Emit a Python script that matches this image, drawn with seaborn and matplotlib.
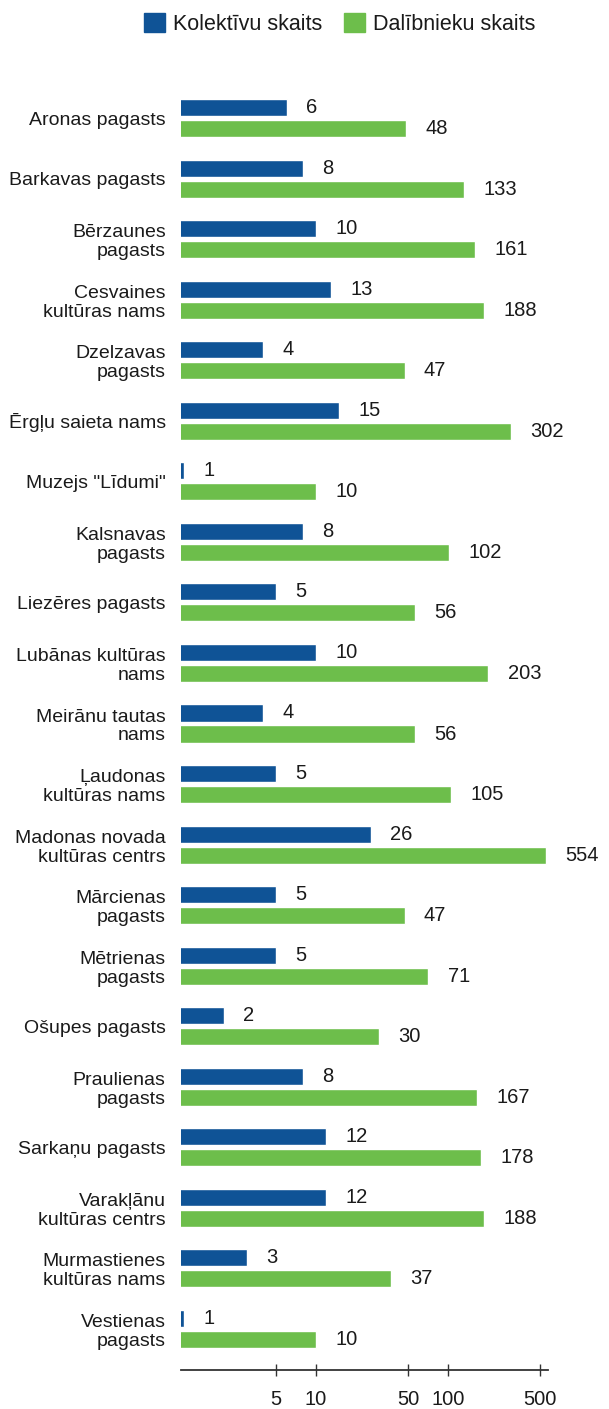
import numpy as np
import pandas as pd
import matplotlib
matplotlib.use('Agg')
import matplotlib.pyplot as plt
import seaborn as sns

# Chart data
labels = [
    'Aronas pagasts', 'Barkavas pagasts', 'Bērzaunes\npagasts', 'Cesvaines\nkultūras nams',
    'Dzelzavas\npagasts', 'Ērgļu saieta nams', 'Muzejs "Līdumi"', 'Kalsnavas\npagasts',
    'Liezēres pagasts', 'Lubānas kultūras\nnams', 'Meirānu tautas\nnams', 'Ļaudonas\nkultūras nams',
    'Madonas novada\nkultūras centrs', 'Mārcienas\npagasts', 'Mētrienas\npagasts', 'Ošupes pagasts',
    'Praulienas\npagasts', 'Sarkaņu pagasts', 'Varakļānu\nkultūras centrs', 'Murmastienes\nkultūras nams',
    'Vestienas\npagasts',
]
kolektivi = [6, 8, 10, 13, 4, 15, 1, 8, 5, 10, 4, 5, 26, 5, 5, 2, 8, 12, 12, 3, 1]
dalibnieki = [48, 133, 161, 188, 47, 302, 10, 102, 56, 203, 56, 105, 554, 47, 71, 30, 167, 178, 188, 37, 10]
series = ['Kolektīvu skaits', 'Dalībnieku skaits']
x_ticks = [5, 10, 50, 100, 500]

colors = ['#0f5396', '#6dbe4b']
text_color = '#1a1a1a'

df = pd.DataFrame({
    'label': labels * 2,
    'series': [series[0]] * len(labels) + [series[1]] * len(labels),
    'value': kolektivi + dalibnieki,
})

sns.set_style('white')
plt.rcParams['font.family'] = ['Liberation Sans', 'DejaVu Sans']
plt.rcParams['text.color'] = text_color

W, H = 609, 1409
fig = plt.figure(figsize=(W / 100, H / 100), dpi=100)
ax_left, ax_right = 181, 548
ax_bottom, ax_top = 1370, 77
ax = fig.add_axes([ax_left / W, (H - ax_bottom) / H, (ax_right - ax_left) / W, (ax_bottom - ax_top) / H])

sns.barplot(data=df, y='label', x='value', hue='series', palette=colors,
            orient='h', width=0.694, gap=0.19, ax=ax, legend=False, saturation=1)

ax.set_xscale('log')
ax.set_xlim(0.95, 575)
ax.set_ylim(len(labels) - 1 + 0.68, -0.68)

for cont in ax.containers:
    ax.bar_label(cont, padding=14, fontsize=14.5, color=text_color)

ax.set_xticks(x_ticks)
ax.set_xticklabels([str(t) for t in x_ticks])
ax.xaxis.set_minor_locator(matplotlib.ticker.NullLocator())
ax.tick_params(axis='x', bottom=True, direction='inout', length=9, width=1, color='#333333',
               labelsize=14.5, pad=10, labelcolor=text_color)
ax.tick_params(axis='y', left=False, length=0, labelsize=14, pad=11, labelcolor=text_color)
for lab in ax.get_yticklabels():
    lab.set_linespacing(1.15)

ax.set_xlabel('')
ax.set_ylabel('')
for s in ['top', 'right', 'left']:
    ax.spines[s].set_visible(False)
ax.spines['bottom'].set_color('#333333')
ax.spines['bottom'].set_linewidth(1.3)

handles = [matplotlib.patches.Patch(color=c) for c in colors]
fig.legend(handles, series, loc='center', bbox_to_anchor=(340 / W, 1 - 24 / H),
           ncol=2, frameon=False, fontsize=15.5, handlelength=0.95, handleheight=0.95,
           handletextpad=0.4, columnspacing=1.0)

fig.savefig('out.png', dpi=100)
